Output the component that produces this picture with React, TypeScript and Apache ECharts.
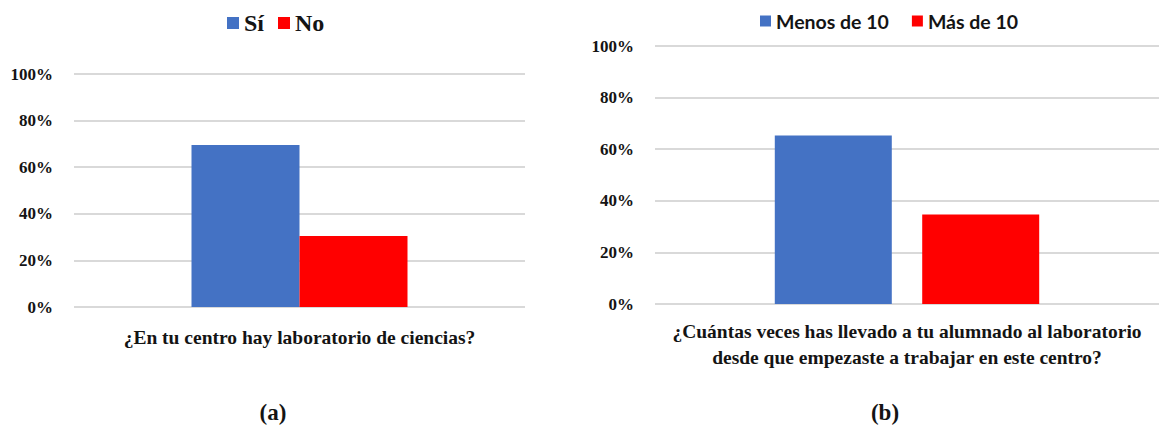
import React, { useEffect, useRef } from "react";
import * as echarts from "echarts";

// Panel (a): presence of a science lab
const catA = ["¿En tu centro hay laboratorio de ciencias?"];
const seriesANames = ["Sí", "No"];
const valuesASi = [69.5];
const valuesANo = [30.5];

// Panel (b): number of lab visits
const catB = ["¿Cuántas veces has llevado a tu alumnado al laboratorio\ndesde que empezaste a trabajar en este centro?"];
const seriesBNames = ["Menos de 10", "Más de 10"];
const valuesBMenos = [65.3];
const valuesBMas = [34.7];

const yTicks = { min: 0, max: 100, interval: 20 };
const panelLabels = ["(a)", "(b)"];

const BLUE = "#4472C4";
const RED = "#FF0000";
const GRID = "#d9d9d9";
const INK = "#141414";
const SERIF = "Liberation Serif";
const SANS = "Lato";

export default function App() {
  const ref = useRef<HTMLDivElement>(null);

  useEffect(() => {
    if (!ref.current) return;
    const chart = echarts.init(ref.current, undefined, { renderer: "svg" });

    const yAxisBase = (gridIndex: number) => ({
      type: "value" as const,
      gridIndex,
      min: yTicks.min,
      max: yTicks.max,
      interval: yTicks.interval,
      axisLine: { show: false },
      axisTick: { show: false },
      splitLine: { lineStyle: { color: GRID, width: 2 } },
      axisLabel: {
        formatter: "{value}%",
        fontFamily: SERIF,
        fontWeight: "bold" as const,
        fontSize: 17,
        color: INK,
        margin: 21,
      },
    });

    const xAxisBase = (gridIndex: number, data: string[], margin: number, lh: number) => ({
      type: "category" as const,
      gridIndex,
      data,
      axisLine: { show: false },
      axisTick: { show: false },
      axisLabel: {
        fontFamily: SERIF,
        fontWeight: "bold" as const,
        fontSize: 19.5,
        color: INK,
        margin,
        lineHeight: lh,
        interval: 0,
      },
    });

    const panelText = (text: string, x: number) => ({
      type: "text" as const,
      x,
      y: 412,
      style: {
        text,
        align: "center",
        verticalAlign: "middle",
        font: `bold 23px ${SERIF}`,
        fill: INK,
      },
    });

    chart.setOption({
      animation: false,
      backgroundColor: "#fff",
      graphic: [panelText(panelLabels[0], 273), panelText(panelLabels[1], 885)],
      legend: [
        {
          data: seriesANames,
          left: 222,
          top: 6,
          itemWidth: 12,
          itemHeight: 12,
          itemGap: 14,
          icon: "rect",
          textStyle: { fontFamily: SERIF, fontWeight: "bold", fontSize: 24, color: INK },
        },
        {
          data: seriesBNames,
          left: 755,
          top: 6,
          itemWidth: 11,
          itemHeight: 11,
          itemGap: 23,
          icon: "rect",
          textStyle: { fontFamily: SANS, fontWeight: "bold", fontSize: 19.5, color: INK },
        },
      ],
      grid: [
        { left: 74, width: 451, top: 74, bottom: 427 - 307, containLabel: false },
        { left: 655, width: 512, top: 46, bottom: 427 - 304, containLabel: false },
      ],
      xAxis: [xAxisBase(0, catA, 20, 20), xAxisBase(1, catB, 14, 26)],
      yAxis: [yAxisBase(0), yAxisBase(1)],
      series: [
        {
          name: seriesANames[0],
          type: "bar",
          xAxisIndex: 0,
          yAxisIndex: 0,
          data: valuesASi,
          barWidth: 108,
          barGap: "0%",
          itemStyle: { color: BLUE },
        },
        {
          name: seriesANames[1],
          type: "bar",
          xAxisIndex: 0,
          yAxisIndex: 0,
          data: valuesANo,
          barWidth: 108,
          barGap: "0%",
          itemStyle: { color: RED },
        },
        {
          name: seriesBNames[0],
          type: "bar",
          xAxisIndex: 1,
          yAxisIndex: 1,
          data: valuesBMenos,
          barWidth: 117,
          barGap: "26%",
          itemStyle: { color: BLUE },
        },
        {
          name: seriesBNames[1],
          type: "bar",
          xAxisIndex: 1,
          yAxisIndex: 1,
          data: valuesBMas,
          barWidth: 117,
          barGap: "26%",
          itemStyle: { color: RED },
        },
      ],
    });

    return () => chart.dispose();
  }, []);

  return (
    <div
      ref={ref}
      style={{ position: "absolute", left: 0, top: 0, width: 1159, height: 427, background: "#fff" }}
    />
  );
}
